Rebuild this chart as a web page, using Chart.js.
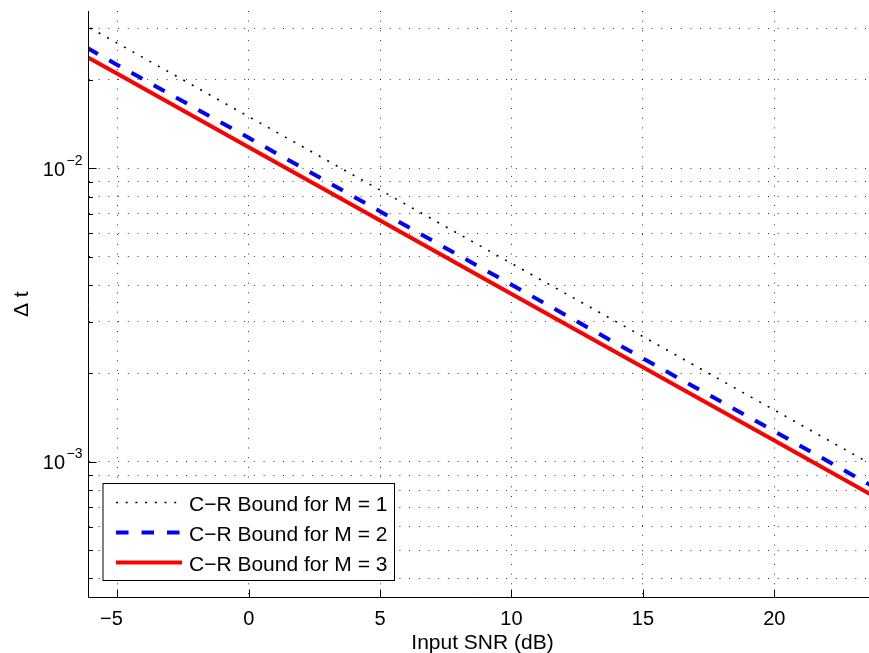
<!DOCTYPE html>
<html>
<head>
<meta charset="utf-8">
<script src="https://cdn.jsdelivr.net/npm/chart.js@4.4.1/dist/chart.umd.min.js"></script>
<style>
  html, body { margin: 0; padding: 0; background: #fff; overflow: hidden; }
  #wrap { width: 869px; height: 653px; }
</style>
</head>
<body>
<div id="wrap"><canvas id="crbChart" width="869" height="653"></canvas></div>
<script>
  // values (log y axis)
  const snr = [-7, -5, 0, 5, 10, 15, 20, 25];
  const boundM1 = [0.0336, 0.0267, 0.0150, 0.00843, 0.00474, 0.00267, 0.00150, 0.000843];
  const boundM2 = [0.0284, 0.0225, 0.0127, 0.00713, 0.00401, 0.00225, 0.00127, 0.000713];
  const boundM3 = [0.0264, 0.0210, 0.0118, 0.00664, 0.00373, 0.00210, 0.00118, 0.000664];
  const seriesLabels = ['C\u2212R Bound for M = 1', 'C\u2212R Bound for M = 2', 'C\u2212R Bound for M = 3'];

  const xRange = [-6.096, 23.604];
  const yRange = [3.445e-4, 0.03436];
  const xTicks = [-5, 0, 5, 10, 15, 20];
  const yMajor = [1e-3, 1e-2];
  const yMajorExp = ['\u22123', '\u22122'];
  const yGrid = [4e-4, 5e-4, 6e-4, 7e-4, 8e-4, 9e-4, 1e-3, 2e-3, 3e-3, 4e-3, 5e-3, 6e-3, 7e-3, 8e-3, 9e-3, 1e-2, 2e-2, 3e-2];

  const FONT = "'Liberation Sans', Arial, Helvetica, sans-serif";
  const pts = arr => snr.map((s, i) => ({ x: s, y: arr[i] }));

  const matlabAxes = {
    id: 'matlabAxes',
    afterDraw(chart) {
      const { ctx, chartArea: a, scales: { x, y } } = chart;
      ctx.save();
      ctx.strokeStyle = '#000';
      ctx.fillStyle = '#000';
      ctx.lineWidth = 1;
      ctx.setLineDash([]);

      // axis lines (left + bottom only)
      ctx.beginPath();
      ctx.moveTo(a.left, a.top);
      ctx.lineTo(a.left, a.bottom);
      ctx.lineTo(a.right, a.bottom);
      ctx.stroke();

      // inward ticks
      ctx.beginPath();
      xTicks.forEach(v => {
        const px = Math.round(x.getPixelForValue(v)) + 0.5;
        ctx.moveTo(px, a.bottom);
        ctx.lineTo(px, a.bottom - 8);
      });
      yGrid.forEach(v => {
        const py = Math.round(y.getPixelForValue(v)) + 0.5;
        const len = yMajor.includes(v) ? 8 : 4.5;
        ctx.moveTo(a.left, py);
        ctx.lineTo(a.left + len, py);
      });
      ctx.stroke();

      // x tick labels, digits centred on the tick, minus hanging left
      ctx.font = '20px ' + FONT;
      ctx.textBaseline = 'alphabetic';
      xTicks.forEach(v => {
        const px = x.getPixelForValue(v);
        const s = String(Math.abs(v));
        const w = ctx.measureText(s).width;
        ctx.textAlign = 'center';
        ctx.fillText(s, px, a.bottom + 27);
        if (v < 0) {
          ctx.textAlign = 'right';
          ctx.fillText('\u2212', px - w / 2, a.bottom + 27);
        }
      });

      // y tick labels 10^k
      yMajor.forEach((v, i) => {
        const py = y.getPixelForValue(v);
        ctx.font = '20px ' + FONT;
        ctx.textAlign = 'right';
        ctx.fillText('10', a.left - 23.5, py + 7.6);
        ctx.font = '14px ' + FONT;
        ctx.textAlign = 'left';
        ctx.fillText(yMajorExp[i], a.left - 22, py - 3.4);
      });

      // axis titles
      ctx.font = '21px ' + FONT;
      ctx.textAlign = 'center';
      ctx.fillText('Input SNR (dB)', 482.5, a.bottom + 51);
      ctx.save();
      ctx.translate(27.5, (a.top + a.bottom) / 2);
      ctx.rotate(-Math.PI / 2);
      ctx.fillText('\u0394 t', 0, 0);
      ctx.restore();

      // legend box
      const lx = a.left + 14.5, rx = a.left + 306;
      const ty = a.bottom - 114, by = a.bottom - 17;
      ctx.fillStyle = '#fff';
      ctx.fillRect(lx, ty, rx - lx, by - ty);
      ctx.strokeStyle = '#000';
      ctx.lineWidth = 1;
      ctx.strokeRect(lx, ty, rx - lx, by - ty);

      chart.data.datasets.forEach((ds, i) => {
        const ry = ty + 19 + i * 30;
        ctx.save();
        ctx.strokeStyle = ds.borderColor;
        ctx.lineWidth = ds.borderWidth;
        ctx.lineCap = 'butt';
        ctx.setLineDash(ds.borderDash || []);
        ctx.beginPath();
        ctx.moveTo(a.left + 27.5, ry);
        ctx.lineTo(a.left + 93.5, ry);
        ctx.stroke();
        ctx.restore();
        ctx.fillStyle = '#000';
        ctx.font = '21px ' + FONT;
        ctx.textAlign = 'left';
        ctx.fillText(seriesLabels[i], a.left + 100.5, ry + 8);
      });
      ctx.restore();
    }
  };

  const gridStyle = { color: 'rgba(0,0,0,0.8)', lineWidth: 1, drawTicks: false };
  const dotted = { display: false, dash: [1, 8.7] };

  new Chart(document.getElementById('crbChart').getContext('2d'), {
    type: 'line',
    data: {
      datasets: [
        { label: seriesLabels[0], data: pts(boundM1), borderColor: '#000000', borderWidth: 1.6, borderDash: [2, 7.7] },
        { label: seriesLabels[1], data: pts(boundM2), borderColor: '#0000ff', borderWidth: 4, borderDash: [12.5, 13] },
        { label: seriesLabels[2], data: pts(boundM3), borderColor: '#ff0000', borderWidth: 4 }
      ].map(d => Object.assign(d, { pointRadius: 0, tension: 0, fill: false, borderCapStyle: 'butt' }))
    },
    options: {
      responsive: false,
      animation: false,
      devicePixelRatio: 1,
      layout: { padding: { left: 0, top: 11, right: 0, bottom: 0 } },
      plugins: { legend: { display: false }, tooltip: { enabled: false } },
      scales: {
        x: {
          type: 'linear', bounds: 'data', min: xRange[0], max: xRange[1],
          ticks: { display: false },
          grid: gridStyle, border: dotted,
          afterBuildTicks: s => { s.ticks = xTicks.map(v => ({ value: v })); s.min = xRange[0]; s.max = xRange[1]; },
          afterFit: s => { s.height = 55.5; }
        },
        y: {
          type: 'logarithmic', bounds: 'data', min: yRange[0], max: yRange[1],
          ticks: { display: false },
          grid: gridStyle, border: dotted,
          afterBuildTicks: s => { s.ticks = yGrid.map(v => ({ value: v })); s.min = yRange[0]; s.max = yRange[1]; },
          afterFit: s => { s.width = 88.5; }
        }
      }
    },
    plugins: [matlabAxes]
  });
</script>
</body>
</html>
